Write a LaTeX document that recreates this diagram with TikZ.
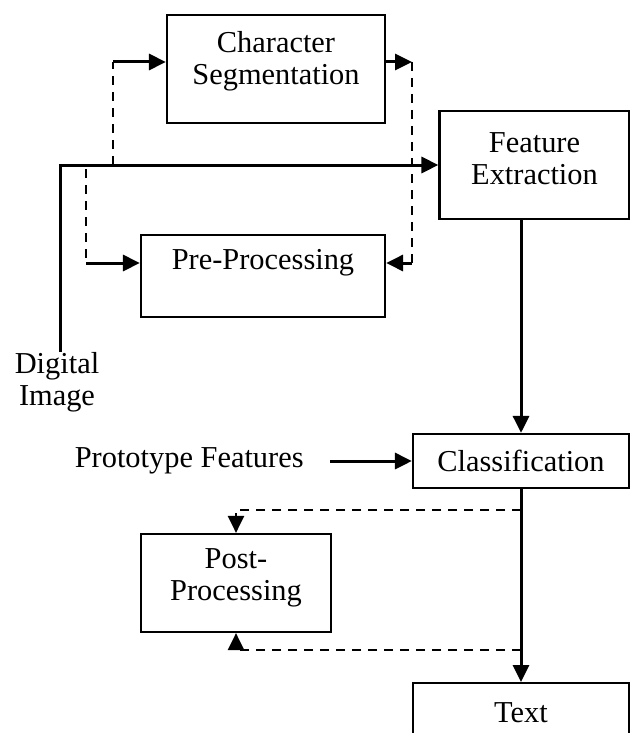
\documentclass[tikz,border=0pt]{standalone}
\usepackage{fontspec}
\setmainfont{Liberation Serif}
\usetikzlibrary{arrows.meta}

\begin{document}
\begin{tikzpicture}[x=0.5pt, y=-0.5pt,
  box/.style={draw, line width=1.1pt, align=center, inner sep=0pt, font=\fontsize{15.2}{16}\selectfont},
  lbl/.style={align=center, inner sep=0pt, font=\fontsize{15.2}{16}\selectfont},
  flow/.style={line width=1.5pt, -{Triangle[length=8.5pt,width=8pt]}},
  dashlink/.style={line width=1.2pt, dash pattern=on 4.5pt off 3.5pt},
  dashflow/.style={dashlink, -{Triangle[length=8.5pt,width=8pt]}}]

% --- page frame ---
\useasboundingbox (0,0) rectangle (630,733);

% --- processing boxes ---
\node[box, minimum width=109pt, minimum height=54pt, text depth=11.3pt] (charseg) at (276,69) {Character\\Segmentation};
\node[box, minimum width=95pt, minimum height=54pt, text depth=6pt] (feature) at (534.5,165) {Feature\\Extraction};
\node[box, minimum width=122pt, minimum height=41pt, text depth=16.3pt] (preproc) at (263,276) {Pre-Processing};
\node[box, minimum width=108pt, minimum height=27pt] (classif) at (521,461) {Classification};
\node[box, minimum width=95pt, minimum height=49pt, text depth=8.3pt] (postproc) at (236,583) {Post-\\Processing};
\node[box, minimum width=108pt, minimum height=30pt, anchor=north] (textbox) at (521,682) {Text};

% --- free labels ---
\node[lbl, anchor=north] (dimg) at (57,352) {Digital\\Image};
\node[lbl, anchor=east] (proto) at (304,461) {Prototype Features};

% --- bend points ---
\coordinate (din) at (60,352);
\coordinate (tapcs) at (113,165);
\coordinate (cstop) at (113,62);
\coordinate (csout) at (412,62);
\coordinate (ppin) at (412,263);
\coordinate (tappp) at (86,169);
\coordinate (ppleft) at (86,263);
\coordinate (tappost) at (521,510);
\coordinate (backpost) at (521,650);

% --- main input line ---
\draw[flow] (din) |- (feature.west);

% --- optional branches round the main line ---
\draw[dashlink] (tapcs) -- (cstop);
\draw[flow] (cstop) -- (cstop -| charseg.west);
\draw[flow] (csout -| charseg.east) -- (csout);
\draw[dashlink] (csout) -- (ppin);
\draw[flow] (ppin) -- (ppin -| preproc.east);
\draw[dashlink] (tappp) -- (ppleft);
\draw[flow] (ppleft) -- (ppleft -| preproc.west);

% --- recognition chain ---
\draw[flow] (feature.south -| classif.north) -- (classif.north);
\draw[flow] ([xshift=13pt]proto.east) -- (classif.west);
\draw[flow] (classif.south) -- (textbox.north);

% --- post-processing loop ---
\draw[dashflow] (tappost) -| (postproc.north);
\draw[dashflow] (backpost) -| (postproc.south);

\end{tikzpicture}
\end{document}
